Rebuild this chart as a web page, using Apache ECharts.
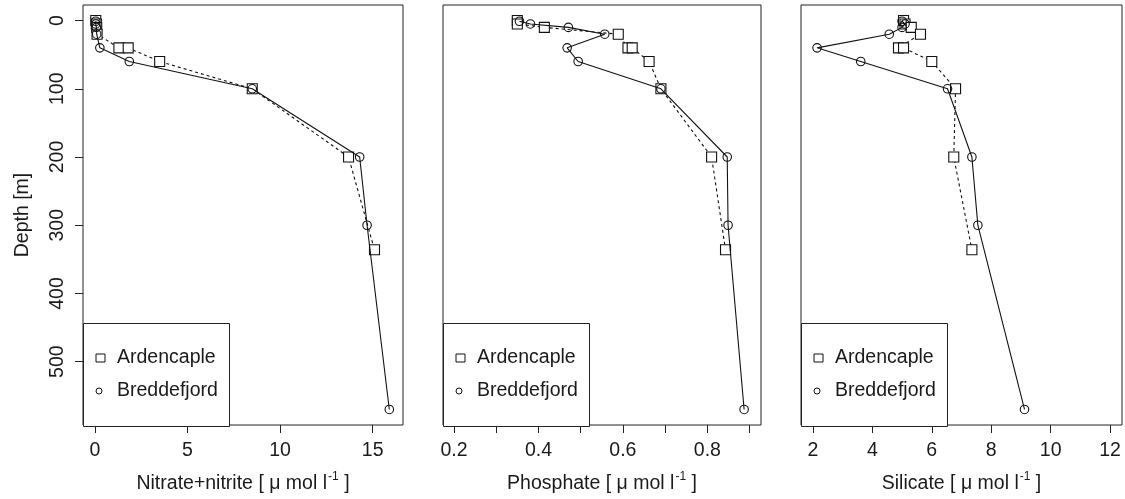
<!DOCTYPE html>
<html>
<head>
<meta charset="utf-8">
<script src="https://cdn.jsdelivr.net/npm/echarts@6/dist/echarts.min.js"></script>
<style>html,body{margin:0;padding:0;background:#fff}#c{width:1125px;height:499px}</style>
</head>
<body>
<div id="c"></div>
<script>
// ---- data ----
const depthArden = [0, 5, 10, 20, 40, 40, 60, 100, 200, 336];
const depthBredde = [1, 5, 10, 20, 40, 60, 100, 200, 300, 570];
const nitrateArden = [0.05, 0.08, 0.1, 0.12, 1.3, 1.8, 3.5, 8.5, 13.7, 15.1];
const nitrateBredde = [0.05, 0.05, 0.08, 0.1, 0.27, 1.86, 8.5, 14.3, 14.7, 15.9];
const phosArden = [0.35, 0.35, 0.414, 0.589, 0.612, 0.622, 0.662, 0.69, 0.81, 0.843];
const phosBredde = [0.355, 0.381, 0.471, 0.557, 0.468, 0.494, 0.69, 0.847, 0.849, 0.887];
const silArden = [5.05, 5.1, 5.31, 5.62, 4.88, 5.05, 6.0, 6.8, 6.74, 7.35];
const silBredde = [5.0, 5.1, 5.0, 4.57, 2.14, 3.61, 6.53, 7.35, 7.55, 9.12];
const depthTicks = [0, 100, 200, 300, 400, 500];
const nitrateTicks = [0, 5, 10, 15];
const phosTicks = [0.2, 0.3, 0.4, 0.5, 0.6, 0.7, 0.8, 0.9];
const phosLabels = [0.2, 0.4, 0.6, 0.8];
const silTicks = [2, 4, 6, 8, 10, 12];
const seriesNames = ['Ardencaple', 'Breddefjord'];
const xNames = ['Nitrate+nitrite', 'Phosphate', 'Silicate'];

const FONT = "'Liberation Sans', Arial, sans-serif";
const FS = 19.5;
const TXT = '#1a1a1a';

const grids = [
  {left: 83, top: 5, width: 320, height: 422},
  {left: 443, top: 5, width: 318, height: 422},
  {left: 801, top: 5, width: 321, height: 422}
];
const xRanges = [[-0.64, 16.64], [0.174, 0.927], [1.6, 12.4]];
const xTickSets = [nitrateTicks, phosTicks, silTicks];
const xLabelSets = [nitrateTicks, phosLabels, silTicks];

function pairs(xs, ds) { return xs.map((v, i) => [v, ds[i]]); }

const option = {
  animation: false,
  backgroundColor: '#fff',
  textStyle: {fontFamily: FONT},
  grid: grids.map(g => Object.assign({show: true, borderColor: '#222', borderWidth: 1, backgroundColor: 'transparent', containLabel: false}, g)),
  xAxis: grids.map((g, i) => ({
    gridIndex: i, type: 'value', min: xRanges[i][0], max: xRanges[i][1], position: 'bottom',
    axisLine: {show: false, onZero: false}, splitLine: {show: false},
    axisTick: {show: true, length: 8, customValues: xTickSets[i], lineStyle: {color: '#222', width: 1}},
    axisLabel: {customValues: xLabelSets[i], margin: 16, fontSize: FS, color: TXT, fontFamily: FONT},
    name: xNames[i] + ' [ \u03bc mol l{sup|-1} ]',
    nameLocation: 'middle', nameGap: 46,
    nameTextStyle: {fontSize: FS, color: TXT, fontFamily: FONT,
      rich: {sup: {fontSize: 12, color: TXT, fontFamily: FONT, verticalAlign: 'top', padding: [0, 0, 14, 1]}}}
  })),
  yAxis: grids.map((g, i) => ({
    gridIndex: i, type: 'value', inverse: true, min: -22.8, max: 592.8, position: 'left',
    show: i === 0,
    axisLine: {show: false, onZero: false}, splitLine: {show: false},
    axisTick: {show: true, length: 8, customValues: depthTicks, lineStyle: {color: '#222', width: 1}},
    axisLabel: {customValues: depthTicks, rotate: 90, margin: 15, fontSize: FS, color: TXT, fontFamily: FONT},
    name: i === 0 ? 'Depth [m]' : '', nameLocation: 'middle', nameRotate: 90, nameGap: 50,
    nameTextStyle: {fontSize: FS, color: TXT, fontFamily: FONT}
  })),
  series: [],
  legend: [],
  graphic: []
};

const dataSets = [[nitrateArden, nitrateBredde], [phosArden, phosBredde], [silArden, silBredde]];
dataSets.forEach((pair, i) => {
  option.series.push({
    name: seriesNames[0], type: 'line', xAxisIndex: i, yAxisIndex: i,
    data: pairs(pair[0], depthArden),
    symbol: 'rect', symbolSize: 10,
    itemStyle: {color: '#fff', borderColor: '#111', borderWidth: 1.1},
    lineStyle: {color: '#111', width: 1.1, type: [3, 3]},
    emphasis: {disabled: true}, z: 3
  });
  option.series.push({
    name: seriesNames[1], type: 'line', xAxisIndex: i, yAxisIndex: i,
    data: pairs(pair[1], depthBredde),
    symbol: 'circle', symbolSize: 8.5,
    itemStyle: {color: 'rgba(255,255,255,0)', borderColor: '#111', borderWidth: 1.1},
    lineStyle: {color: '#111', width: 1.1, type: 'solid'},
    emphasis: {disabled: true}, z: 4
  });
  const gl = grids[i].left;
  option.graphic.push({
    type: 'rect', z: 1,
    shape: {x: gl + 0.5, y: 323.5, width: 146, height: 103},
    style: {fill: '#fff', stroke: '#222', lineWidth: 1}
  });
  option.legend.push({
    left: gl + 12.5, top: 348, padding: 0, orient: 'vertical', selectedMode: false,
    itemWidth: 9, itemHeight: 8, icon: 'rect',
    data: [{name: seriesNames[0], itemStyle: {color: 'rgba(255,255,255,0)', borderColor: '#111', borderWidth: 1}}],
    textStyle: {fontSize: FS, color: TXT, fontFamily: FONT, lineHeight: 20, padding: [0, 0, 0, 7]},
    z: 10
  });
  option.legend.push({
    left: gl + 12.5, top: 381, padding: 0, orient: 'vertical', selectedMode: false,
    itemWidth: 6, itemHeight: 6, icon: 'circle',
    data: [{name: seriesNames[1], itemStyle: {color: 'rgba(255,255,255,0)', borderColor: '#111', borderWidth: 1}}],
    textStyle: {fontSize: FS, color: TXT, fontFamily: FONT, lineHeight: 20, padding: [0, 0, 0, 10]},
    z: 10
  });
});

const chart = echarts.init(document.getElementById('c'), null, {renderer: 'canvas'});
chart.setOption(option);
</script>
</body>
</html>
